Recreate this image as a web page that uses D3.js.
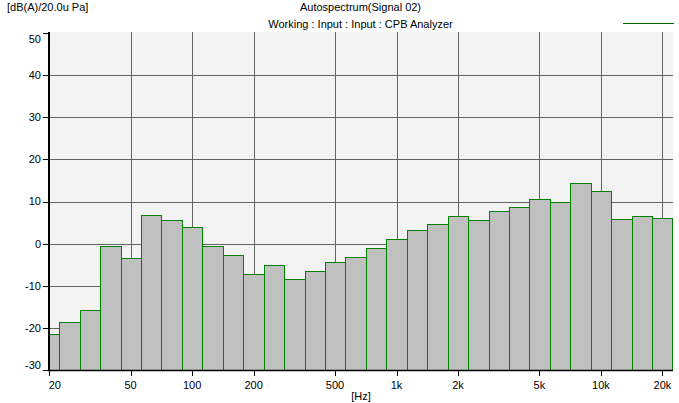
<!DOCTYPE html>
<html>
<head>
<meta charset="utf-8">
<script src="https://cdn.jsdelivr.net/npm/d3@7"></script>
<style>
  html, body { margin: 0; padding: 0; background: #ffffff; }
  svg { display: block; }
  text { font-family: "Liberation Sans", Arial, sans-serif; font-size: 11px; fill: #000; }
</style>
</head>
<body>
<svg id="chart" width="679" height="403"></svg>
<script>
// Third-octave band index (n): centre = 1000 * 10^(n/10); 20 Hz ... 20 kHz
const bandIndex = [-17,-16,-15,-14,-13,-12,-11,-10,-9,-8,-7,-6,-5,-4,-3,-2,-1,0,1,2,3,4,5,6,7,8,9,10,11,12,13];
const bandNames = ["20","25","31.5","40","50","63","80","100","125","160","200","250","315","400","500","630","800","1k","1.25k","1.6k","2k","2.5k","3.15k","4k","5k","6.3k","8k","10k","12.5k","16k","20k"];
const levels = [-21.5,-18.7,-15.8,-0.6,-3.5,6.9,5.5,3.9,-0.6,-2.8,-7.3,-5.1,-8.5,-6.6,-4.4,-3.2,-1.1,1.0,3.2,4.6,6.5,5.5,7.7,8.8,10.5,9.9,14.5,12.4,5.8,6.5,6.2];
const xTickValues = [20,50,100,200,500,1000,2000,5000,10000,20000];
const xTickLabels = ["20","50","100","200","500","1k","2k","5k","10k","20k"];
const yTickValues = [-30,-20,-10,0,10,20,30,40,50];

const titleText = "Autospectrum(Signal 02)";
const subtitleText = "Working : Input : Input : CPB Analyzer";
const yUnitText = "[dB(A)/20.0u Pa]";
const xUnitText = "[Hz]";

const svg = d3.select("#chart");
const L = 49, R = 673, T = 33, B = 370;
const fMin = 1000 * Math.pow(10, -1.7), fMax = 1000 * Math.pow(10, 1.35);
const x = d3.scaleLog().domain([fMin, fMax]).range([L, 672.5]);
const y = d3.scaleLinear().domain([-30, 50]).range([B, T]);

// plot background
svg.append("rect").attr("x", L + 1).attr("y", T - 1).attr("width", R - L - 1).attr("height", B - T + 1).attr("fill", "#f3f3f3");

// grid
const grid = svg.append("g").attr("stroke", "#646464").attr("stroke-width", 1).attr("shape-rendering", "crispEdges");
grid.selectAll("line.v").data(xTickValues.slice(1)).join("line")
  .attr("x1", d => Math.round(x(d)) + 0.5).attr("x2", d => Math.round(x(d)) + 0.5)
  .attr("y1", T - 1).attr("y2", B);
grid.selectAll("line.h").data(yTickValues.filter(v => v > -30 && v < 50)).join("line")
  .attr("x1", L).attr("x2", R)
  .attr("y1", d => Math.round(y(d)) + 0.5).attr("y2", d => Math.round(y(d)) + 0.5);

// bars
svg.append("clipPath").attr("id", "plotclip").append("rect")
  .attr("x", L).attr("y", T - 2).attr("width", R - L + 1).attr("height", B - T + 3);
const bars = bandIndex.map((n, i) => {
  const fc = 1000 * Math.pow(10, n / 10);
  return { name: bandNames[i], lo: fc * Math.pow(10, -0.05), hi: fc * Math.pow(10, 0.05), v: levels[i] };
});
svg.append("g").attr("clip-path", "url(#plotclip)").attr("shape-rendering", "crispEdges")
  .selectAll("rect").data(bars).join("rect")
  .attr("x", d => Math.round(Math.max(x(d.lo), L)) + 0.5)
  .attr("width", d => Math.round(Math.min(x(d.hi), 672.5)) - Math.round(Math.max(x(d.lo), L)))
  .attr("y", d => Math.round(y(d.v)) + 0.5)
  .attr("height", d => Math.round(B) - Math.round(y(d.v)))
  .attr("fill", "#c0c0c0").attr("stroke", "#008000").attr("stroke-width", 1);

// axes lines
svg.append("line").attr("x1", L - 0.0).attr("x2", L - 0.0).attr("y1", T - 1).attr("y2", B + 1)
  .attr("stroke", "#000").attr("stroke-width", 2);
svg.append("line").attr("x1", L - 1).attr("x2", R).attr("y1", B + 0.5).attr("y2", B + 0.5)
  .attr("stroke", "#000").attr("stroke-width", 1.5);

// y ticks + labels
const yt = svg.append("g");
yt.selectAll("line").data(yTickValues).join("line")
  .attr("x1", L - 6).attr("x2", L)
  .attr("y1", d => Math.round(y(d)) + 0.5).attr("y2", d => Math.round(y(d)) + 0.5)
  .attr("stroke", "#000").attr("stroke-width", 1).attr("shape-rendering", "crispEdges");
yt.selectAll("text").data(yTickValues).join("text")
  .attr("x", 41).attr("text-anchor", "end")
  .attr("y", d => Math.min(Math.max(y(d) + 3.9, 42.7), 369.3))
  .text(d => d);

// x ticks + labels
const xt = svg.append("g");
xt.selectAll("line").data(xTickValues).join("line")
  .attr("x1", d => Math.round(x(d)) + 0.5).attr("x2", d => Math.round(x(d)) + 0.5)
  .attr("y1", B).attr("y2", B + 6)
  .attr("stroke", "#000").attr("stroke-width", 1).attr("shape-rendering", "crispEdges");
xt.selectAll("text").data(xTickValues).join("text")
  .attr("x", (d, i) => i === 0 ? x(d) - 0.5 : x(d))
  .attr("text-anchor", (d, i) => i === 0 ? "start" : "middle")
  .attr("y", 389)
  .text((d, i) => xTickLabels[i]);

// titles
svg.append("text").attr("x", 7).attr("y", 11).text(yUnitText);
svg.append("text").attr("x", 360.5).attr("y", 11).attr("text-anchor", "middle").text(titleText);
svg.append("text").attr("x", 360.5).attr("y", 28).attr("text-anchor", "middle").text(subtitleText);
svg.append("text").attr("x", 361).attr("y", 400).attr("text-anchor", "middle").text(xUnitText);

// legend line
svg.append("line").attr("x1", 623).attr("x2", 674).attr("y1", 23.5).attr("y2", 23.5)
  .attr("stroke", "#006400").attr("stroke-width", 1);
</script>
</body>
</html>
